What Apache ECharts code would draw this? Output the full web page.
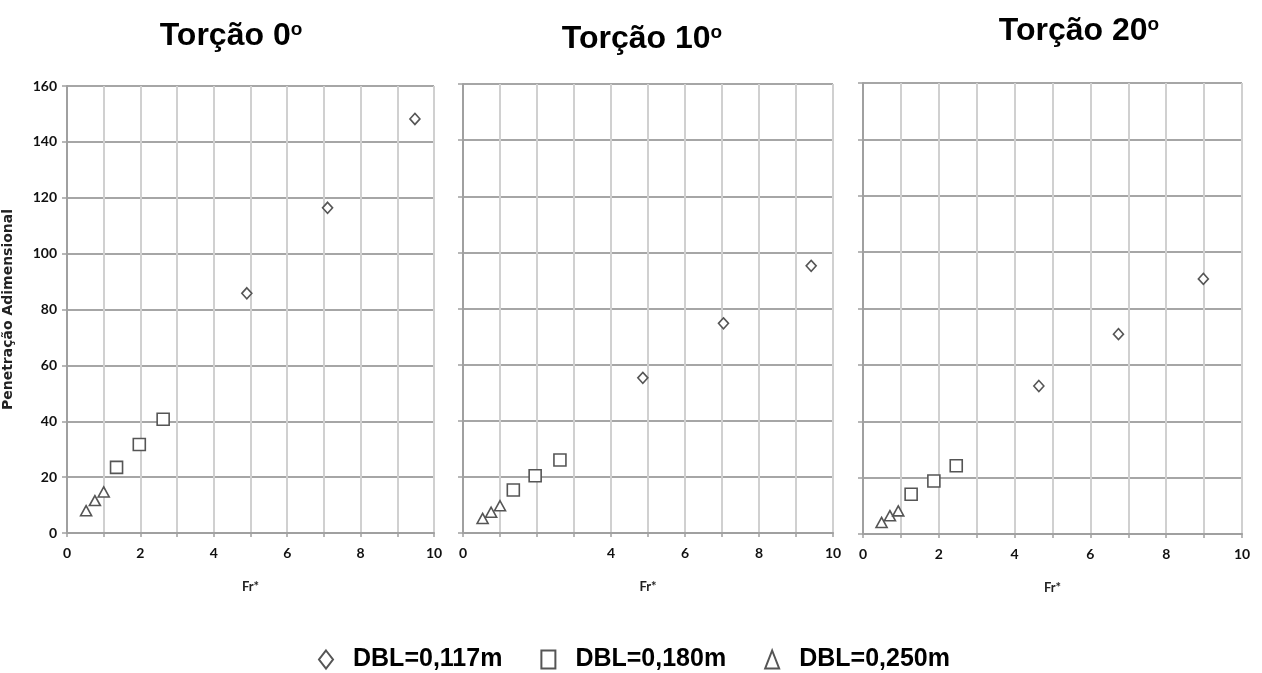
<!DOCTYPE html>
<html>
<head>
<meta charset="utf-8">
<title>Penetração Adimensional x Fr*</title>
<script src="https://cdn.jsdelivr.net/npm/echarts@6/dist/echarts.min.js"></script>
<style>
  html, body { margin: 0; padding: 0; background: #fff; }
  #chart { width: 1262px; height: 673px; }
</style>
</head>
<body>
<div id="chart"></div>
<script>
// Panel titles (torsion angle) and legend names
const panelTitles = ['Torção 0', 'Torção 10', 'Torção 20'];
const seriesNames = ['DBL=0,117m', 'DBL=0,180m', 'DBL=0,250m'];
const seriesSymbols = ['diamond', 'rect', 'triangle'];

// Axis ticks
const yTicks = [0, 20, 40, 60, 80, 100, 120, 140, 160];
const xTickLabelsP0 = ['0', '2', '4', '6', '8', '10'];
const xTickLabelsP1 = ['0', '4', '6', '8', '10'];
const xTickLabelsP2 = ['0', '2', '4', '6', '8', '10'];

// Torção 0º
const fr117_t0 = [4.9, 7.1, 9.48];
const pen117_t0 = [85.8, 116.4, 148.2];
const fr180_t0 = [1.35, 1.97, 2.62];
const pen180_t0 = [23.5, 31.7, 40.7];
const fr250_t0 = [0.52, 0.76, 1.0];
const pen250_t0 = [8.0, 11.6, 14.7];

// Torção 10º
const fr117_t10 = [4.86, 7.04, 9.41];
const pen117_t10 = [55.3, 74.7, 95.2];
const fr180_t10 = [1.36, 1.95, 2.62];
const pen180_t10 = [15.3, 20.4, 26.0];
const fr250_t10 = [0.53, 0.76, 1.0];
const pen250_t10 = [5.2, 7.4, 9.7];

// Torção 20º
const fr117_t20 = [4.64, 6.74, 8.98];
const pen117_t20 = [52.5, 70.9, 90.5];
const fr180_t20 = [1.27, 1.87, 2.46];
const pen180_t20 = [14.1, 18.8, 24.2];
const fr250_t20 = [0.49, 0.71, 0.93];
const pen250_t20 = [4.1, 6.5, 8.2];

const panels = [
  { xs: [fr117_t0, fr180_t0, fr250_t0], ys: [pen117_t0, pen180_t0, pen250_t0], xLabels: xTickLabelsP0 },
  { xs: [fr117_t10, fr180_t10, fr250_t10], ys: [pen117_t10, pen180_t10, pen250_t10], xLabels: xTickLabelsP1 },
  { xs: [fr117_t20, fr180_t20, fr250_t20], ys: [pen117_t20, pen180_t20, pen250_t20], xLabels: xTickLabelsP2 }
];

const gridBoxes = [
  { left: 67, top: 86, width: 367, height: 447 },
  { left: 463, top: 84, width: 370, height: 449 },
  { left: 863, top: 83, width: 379, height: 451 }
];
const titleBoxes = [
  { cx: 226, top: 15 },
  { cx: 637, top: 18 },
  { cx: 1074, top: 10 }
];
const symbolSizes = [[10, 11], [12, 12], [11, 10]];

const zip = (a, b) => a.map((v, i) => [v, b[i]]);

const labelFont = { fontFamily: 'Lato, "Open Sans", sans-serif', fontWeight: 'bold', fontSize: 14, color: '#111' };

const option = {
  backgroundColor: '#ffffff',
  animation: false,
  title: panelTitles.map((t, i) => ({
    text: t + '{o|o}',
    left: titleBoxes[i].cx,
    top: titleBoxes[i].top,
    textAlign: 'center',
    textStyle: {
      fontFamily: '"Liberation Sans", Arial, sans-serif',
      fontWeight: 'bold',
      fontSize: 32,
      color: '#000',
      rich: {
        o: { fontFamily: '"Liberation Sans", Arial, sans-serif', fontWeight: 'bold', fontSize: 19, color: '#000', verticalAlign: 'top', lineHeight: 19 }
      }
    }
  })),
  legend: {
    left: 313,
    top: 642,
    itemWidth: 14,
    itemHeight: 18,
    itemGap: 38,
    data: seriesNames.map((n, k) => ({ name: n, icon: seriesSymbols[k] })),
    textStyle: {
      fontFamily: '"Liberation Sans", Arial, sans-serif',
      fontWeight: 'bold',
      fontSize: 25,
      color: '#000',
      padding: [0, 0, 0, 15]
    },
    itemStyle: { color: '#fff', borderColor: '#555', borderWidth: 2 }
  },
  grid: gridBoxes.map(g => ({ left: g.left, top: g.top, width: g.width, height: g.height, containLabel: false })),
  xAxis: panels.map((p, i) => ({
    type: 'value',
    gridIndex: i,
    min: 0, max: 10, interval: 1,
    name: 'Fr*',
    nameLocation: 'middle',
    nameGap: 47,
    nameTextStyle: { fontFamily: 'Lato, "Open Sans", sans-serif', fontWeight: 'bold', fontSize: 13, color: '#222' },
    axisLine: { show: true, lineStyle: { color: '#a0a0a0', width: 2 } },
    axisTick: { show: true, length: 4, lineStyle: { color: '#a0a0a0', width: 1.5 } },
    axisLabel: {
      ...labelFont,
      margin: 13,
      formatter: v => (p.xLabels.indexOf(String(v)) >= 0 ? String(v) : '')
    },
    splitLine: { show: true, lineStyle: { color: '#d0d0d0', width: 2 } }
  })),
  yAxis: panels.map((p, i) => ({
    type: 'value',
    gridIndex: i,
    min: yTicks[0], max: yTicks[yTicks.length - 1], interval: 20,
    name: i === 0 ? 'Penetração Adimensional' : '',
    nameLocation: 'middle',
    nameGap: 52,
    nameTextStyle: { fontFamily: '"DejaVu Sans", sans-serif', fontWeight: 'bold', fontSize: 14, color: '#222' },
    axisLine: { show: true, lineStyle: { color: '#a0a0a0', width: 2 } },
    axisTick: { show: true, inside: false, length: 5, lineStyle: { color: '#a0a0a0', width: 1.5 } },
    axisLabel: { show: i === 0, ...labelFont, margin: 10 },
    splitLine: { show: true, lineStyle: { color: '#a6a6a6', width: 1.8 } }
  })),
  series: []
};

panels.forEach((p, i) => {
  seriesNames.forEach((n, k) => {
    option.series.push({
      type: 'scatter',
      name: n,
      xAxisIndex: i,
      yAxisIndex: i,
      symbol: seriesSymbols[k],
      symbolSize: symbolSizes[k],
      data: zip(p.xs[k], p.ys[k]),
      itemStyle: { color: '#fff', borderColor: '#555', borderWidth: 1.6, opacity: 1 },
      emphasis: { disabled: true }
    });
  });
});

const chart = echarts.init(document.getElementById('chart'), null, { renderer: 'canvas' });
chart.setOption(option);
</script>
</body>
</html>
